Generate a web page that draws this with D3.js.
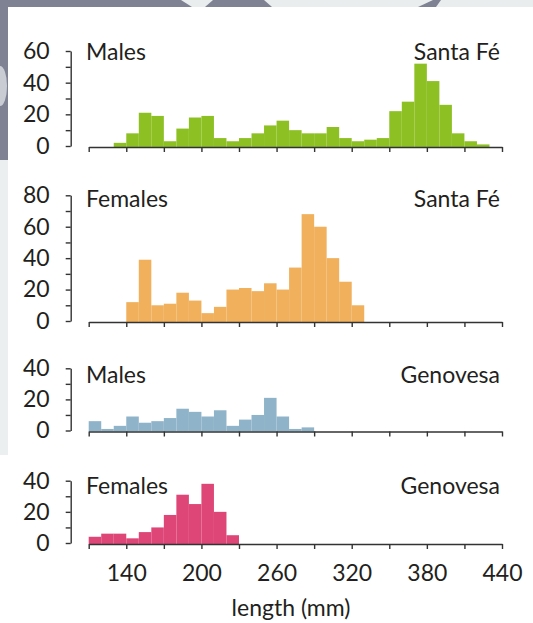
<!DOCTYPE html>
<html>
<head>
<meta charset="utf-8">
<script src="https://cdn.jsdelivr.net/npm/d3@7"></script>
<style>
  html, body { margin: 0; padding: 0; background: #fff; }
  svg { display: block; }
  text { font-family: Lato, "Open Sans", sans-serif; fill: #231f20; }
</style>
</head>
<body>
<div id="graph-container"></div>
<script>
// Dati: conteggi per classi di 10 mm
var binWidth = 10;
var panelSex = ["Males", "Females", "Males", "Females"];
var panelIsland = ["Santa Fé", "Santa Fé", "Genovesa", "Genovesa"];
var binStarts = [130, 140, 110, 110];
var malesSantaFe = [2, 8, 21, 19, 3, 11, 18, 19, 5, 3, 5, 8, 13, 16, 10, 8, 8, 12, 5, 3, 4, 5, 22, 28, 52, 41, 26, 8, 3, 1];
var femalesSantaFe = [12, 39, 10, 11, 18, 13, 5, 9, 20, 21, 19, 24, 20, 34, 68, 60, 40, 25, 10];
var malesGenovesa = [6, 1, 3, 9, 5, 6, 8, 14, 12, 9, 13, 3, 7, 10, 21, 9, 1, 2];
var femalesGenovesa = [4, 6, 6, 3, 7, 10, 18, 31, 25, 38, 20, 5];
var yMaxes = [60, 80, 40, 40];
var xTicks = [110, 140, 170, 200, 230, 260, 290, 320, 350, 380, 410, 440];
var xTickLabels = [140, 200, 260, 320, 380, 440];
var xTitle = "length (mm)";

var counts = [malesSantaFe, femalesSantaFe, malesGenovesa, femalesGenovesa];
var colors = ["#8dc023", "#f0b05c", "#8fb3c9", "#de4678"];

// posizioni dei pannelli (pixel)
var W = 533, H = 623;
var yTop = [51, 195.3, 368.3, 480.7];
var yZero = [146, 321, 430.5, 543];
var labelBase = [60, 207, 383, 494];
var axisX = 70.7;

var svg = d3.select("#graph-container")
  .append("svg")
  .attr("width", W)
  .attr("height", H);

// sfondo (foto della pagina)
svg.append("rect").attr("width", W).attr("height", H).attr("fill", "#7f8293");
svg.append("rect").attr("x", 0).attr("y", 160).attr("width", 8).attr("height", 295).attr("fill", "#eceff0");
svg.append("rect").attr("x", 0).attr("y", 455).attr("width", 8).attr("height", H - 455).attr("fill", "#fff");
svg.append("ellipse").attr("cx", 0).attr("cy", 86).attr("rx", 7).attr("ry", 20).attr("fill", "#c9ccd3");
[
  [[181, 0], [213, 0], [205, 7], [192, 7]],
  [[264, 0], [433, 0], [418, 7], [272, 7]],
  [[441, 0], [533, 0], [533, 7], [436, 7]]
].forEach((pts) => {
  svg.append("polygon").attr("points", pts.map((p) => p.join(",")).join(" ")).attr("fill", "#e9eded");
});
svg.append("rect").attr("x", 8).attr("y", 7).attr("width", W - 8).attr("height", H - 7).attr("fill", "#fff");

var x = d3.scaleLinear().domain([110, 440]).range([88.7, 502]);

counts.forEach((values, i) => {
  var y = d3.scaleLinear().domain([0, yMaxes[i]]).range([yZero[i], yTop[i]]);
  var base = yZero[i] + 1;

  var bins = values.map((v, k) => ({ x0: binStarts[i] + k * binWidth, value: v }));

  svg.append("g")
    .selectAll("rect")
    .data(bins)
    .enter()
    .append("rect")
    .attr("x", (d) => x(d.x0))
    .attr("width", (d) => x(d.x0 + binWidth) - x(d.x0))
    .attr("y", (d) => y(d.value))
    .attr("height", (d) => base - y(d.value))
    .attr("fill", colors[i]);

  // asse y
  var gy = svg.append("g")
    .attr("transform", `translate(${axisX},0)`)
    .call(
      d3.axisLeft(y)
        .tickValues(d3.range(0, yMaxes[i] + 1, 10))
        .tickSize(5)
        .tickSizeOuter(0)
        .tickPadding(16)
        .tickFormat((d) => (d % 20 === 0 ? d : ""))
    );

  // asse x
  var last = i === counts.length - 1;
  var gx = svg.append("g")
    .attr("transform", `translate(0,${base})`)
    .call(
      d3.axisBottom(x)
        .tickValues(xTicks)
        .tickSize(5)
        .tickSizeOuter(0)
        .tickPadding(16)
        .tickFormat((d) => (last && xTickLabels.indexOf(d) >= 0 ? d : ""))
    );

  [gx, gy].forEach((g) => {
    g.selectAll("path, line").attr("stroke", "#333").attr("stroke-width", 1.4);
    g.selectAll("text")
      .attr("font-family", "Lato, 'Open Sans', sans-serif")
      .attr("font-size", "23px")
      .attr("fill", "#231f20");
  });

  svg.append("text")
    .attr("x", 86)
    .attr("y", labelBase[i])
    .attr("font-size", "23px")
    .text(panelSex[i]);

  svg.append("text")
    .attr("x", 500)
    .attr("y", labelBase[i])
    .attr("text-anchor", "end")
    .attr("font-size", "23px")
    .text(panelIsland[i]);
});

svg.append("text")
  .attr("x", 291)
  .attr("y", 616)
  .attr("text-anchor", "middle")
  .attr("font-size", "23px")
  .text(xTitle);
</script>
</body>
</html>
